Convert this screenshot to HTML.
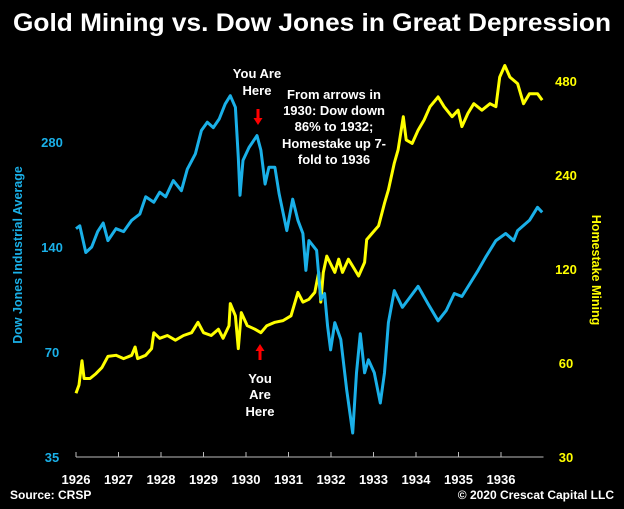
<!DOCTYPE html>
<html><head><meta charset="utf-8"><style>
html,body{margin:0;padding:0;background:#000;}
svg{display:block;font-family:"Liberation Sans",sans-serif;font-weight:bold;}
</style></head><body>
<svg id="c" width="624" height="509" viewBox="0 0 624 509">
<rect width="624" height="509" fill="#000"/>
<text x="312" y="31" fill="#fff" font-size="25" text-anchor="middle" textLength="598" lengthAdjust="spacingAndGlyphs">Gold Mining vs. Dow Jones in Great Depression</text>
<text transform="translate(22,255) rotate(-90)" fill="#1ab0e8" font-size="12.5" text-anchor="middle">Dow Jones Industrial Average</text>
<text transform="translate(592,270) rotate(90)" fill="#ffff00" font-size="12.5" text-anchor="middle">Homestake Mining</text>
<g font-size="13" fill="#fff" text-anchor="middle">
<text x="257" y="78">You Are</text><text x="257" y="95">Here</text>
</g>
<g font-size="13" fill="#fff" text-anchor="middle">
<text x="334" y="99">From arrows in</text><text x="334" y="115">1930: Dow down</text><text x="334" y="131">86% to 1932;</text><text x="334" y="148">Homestake up 7-</text><text x="334" y="164">fold to 1936</text>
</g>
<g font-size="13" fill="#fff" text-anchor="middle">
<text x="260" y="383">You</text><text x="260" y="399">Are</text><text x="260" y="416">Here</text>
</g>
<path d="M256.5,109 h3 v9 h3 l-4.5,7 l-4.5,-7 h3z" fill="#f00"/>
<path d="M258.5,360 h3 v-9 h3 l-4.5,-7 l-4.5,7 h3z" fill="#f00"/>
<text x="10" y="499" fill="#fff" font-size="12">Source: CRSP</text>
<text x="614" y="499" fill="#fff" font-size="12" text-anchor="end">© 2020 Crescat Capital LLC</text>
<g id="axes"></g>
<g id="series"></g>
</svg>
<script>
const dowYears=[1926.00,1926.09,1926.23,1926.37,1926.51,1926.64,1926.75,1926.94,1927.12,1927.31,1927.50,1927.64,1927.83,1927.97,1928.11,1928.29,1928.48,1928.62,1928.81,1928.95,1929.09,1929.23,1929.37,1929.51,1929.63,1929.75,1929.82,1929.86,1929.93,1930.07,1930.26,1930.35,1930.45,1930.54,1930.68,1930.78,1930.96,1931.10,1931.22,1931.34,1931.41,1931.48,1931.66,1931.76,1931.85,1931.92,1931.99,1932.09,1932.23,1932.37,1932.51,1932.60,1932.69,1932.79,1932.88,1933.02,1933.16,1933.26,1933.35,1933.49,1933.68,1933.82,1934.05,1934.29,1934.52,1934.71,1934.90,1935.08,1935.27,1935.46,1935.64,1935.88,1936.11,1936.30,1936.39,1936.67,1936.86,1936.97];
const dowValues=[158,161,135,140,155,164,146,158,155,167,174,195,188,201,195,217,203,234,259,302,319,308,326,360,380,352,253,197,248,270,292,265,212,237,237,199,156,192,167,153,120,146,137,99,103,83,71,85,76,54.5,41,61,79,61,66.5,61,50,61,85,105,94,99,108,96,86,92,103,101,110,120,131,146,153,146,156,167,182,176];
const hmYears=[1926.00,1926.07,1926.14,1926.19,1926.33,1926.47,1926.61,1926.75,1926.94,1927.12,1927.31,1927.39,1927.45,1927.64,1927.78,1927.83,1927.97,1928.15,1928.34,1928.53,1928.72,1928.87,1929.00,1929.18,1929.35,1929.46,1929.60,1929.63,1929.75,1929.82,1929.89,1930.03,1930.21,1930.35,1930.49,1930.68,1930.87,1931.06,1931.22,1931.34,1931.48,1931.62,1931.71,1931.76,1931.82,1931.90,1932.09,1932.18,1932.27,1932.41,1932.55,1932.65,1932.79,1932.84,1932.98,1933.12,1933.26,1933.35,1933.49,1933.58,1933.70,1933.77,1933.91,1934.05,1934.19,1934.33,1934.52,1934.66,1934.85,1934.99,1935.08,1935.22,1935.36,1935.55,1935.74,1935.88,1935.97,1936.09,1936.21,1936.39,1936.53,1936.67,1936.86,1936.97];
const hmValues=[48,51,61,53.5,53.5,55.5,58,63,63.5,62,63.5,67.5,62,63.5,66.7,75,72,73.5,71,73.5,75,81,75,73.5,77,72,79,93,85,66.7,87,79,77,75,79,81,82,85,101,94,96,101,117,94,117,132,117,129,117,129,120,114,126,149,157,165,195,215,262,289,369,311,303,334,360,397,427,397,369,387,343,378,406,387,406,397,494,538,494,471,406,437,437,417];
const xTicks=[1926,1927,1928,1929,1930,1931,1932,1933,1934,1935,1936];
const leftTicks=[35,70,140,280];
const rightTicks=[30,60,120,240,480];

const NS="http://www.w3.org/2000/svg";
const X0=76,X1=501,AXY=457;
const x=v=>X0+(v-1926)*(X1-X0)/10;
const yL=v=>AXY-Math.log2(v/35)*105;
const yR=v=>AXY-Math.log2(v/30)*94;
function mk(tag,attrs,parent){const e=document.createElementNS(NS,tag);for(const k in attrs)e.setAttribute(k,attrs[k]);parent.appendChild(e);return e;}
const axes=document.getElementById('axes'),series=document.getElementById('series');

const axisLine=mk('line',{x1:x(1926),x2:x(1937),y1:AXY,y2:AXY,stroke:'#bbb','stroke-width':1},axes);


xTicks.forEach(t=>{
  const tk=mk('line',{x1:x(t),x2:x(t),y1:AXY-5,y2:AXY,stroke:'#bbb','stroke-width':1},axes);
  
  
  const lb=mk('text',{x:x(t),y:AXY+27,fill:'#fff','font-size':13,'text-anchor':'middle'},axes);
  lb.textContent=t;
  
  
});
leftTicks.forEach(t=>{
  const lb=mk('text',{x:52,y:yL(t)+5,fill:'#1ab0e8','font-size':13,'text-anchor':'middle'},axes);
  lb.textContent=t;
  
  
});
rightTicks.forEach(t=>{
  const lb=mk('text',{x:566,y:yR(t)+5,fill:'#ffff00','font-size':13,'text-anchor':'middle'},axes);
  lb.textContent=t;
  
  
});
function line(xs,vs,fy,color){return xs.map((t,i)=>(i?'L':'M')+x(t).toFixed(1)+','+fy(vs[i]).toFixed(1)).join('');}
const hm=mk('path',{d:line(hmYears,hmValues,yR),fill:'none',stroke:'#ffff00','stroke-width':3,'stroke-linejoin':'round'},series);


const dow=mk('path',{d:line(dowYears,dowValues,yL),fill:'none',stroke:'#1ab0e8','stroke-width':3,'stroke-linejoin':'round'},series);


</script>
</body></html>
